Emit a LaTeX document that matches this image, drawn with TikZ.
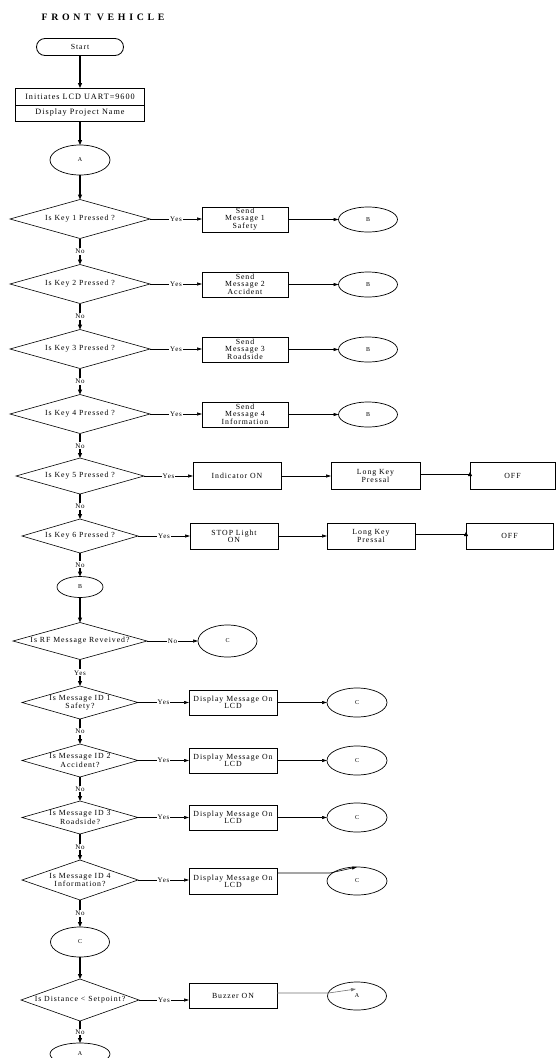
\documentclass[tikz,border=0pt]{standalone}
\usepackage{fontspec}
\setmainfont{Liberation Serif}[LetterSpace=12]
\usetikzlibrary{arrows.meta,shapes.geometric,calc}
\begin{document}
\begin{tikzpicture}[x=1pt,y=-1pt,
  every node/.style={inner sep=0pt,outer sep=0pt},
  sz/.style 2 args={minimum width=#1pt,minimum height=#2pt},
  txt/.style={font=\fontsize{7.8}{6.9}\selectfont,align=center},
  bigtxt/.style={font=\fontsize{8.2}{8}\selectfont,align=center},
  titletxt/.style={font=\fontsize{9.8}{10}\selectfont\bfseries\addfontfeatures{LetterSpace=38}},
  box/.style={draw,line width=0.9pt,rectangle,txt},
  startbox/.style={draw,line width=0.8pt,rectangle,rounded corners=8.5pt,txt},
  circ/.style={draw,line width=0.7pt,ellipse,font=\fontsize{6}{6}\selectfont},
  dia/.style={rectangle,txt},
  diaout/.style={line width=0.6pt},
  varrow/.style={line width=1.1pt,-{Triangle[length=5pt,width=4pt]}},
  harrow/.style={line width=0.6pt,-{Triangle[length=5pt,width=3pt]}},
  hline/.style={line width=0.6pt},
  lbl/.style={fill=white,font=\fontsize{7}{7}\selectfont,inner sep=1pt}]
\fill[white] (0,0) rectangle (556,1058);
\useasboundingbox (0,0) rectangle (556,1058);

\node[titletxt] (title) at (103,17) {FRONT VEHICLE};
\node[startbox,sz={87}{17}] (start) at (80,47) {Start};
\node[box,bigtxt,sz={129}{17}] (init1) at (80,96.5) {Initiates LCD UART=9600};
\node[box,bigtxt,sz={129}{16}] (init2) at (80,113) {Display Project Name};
\node[circ,sz={60}{30}] (a1) at (80,160) {A};

% key rows
\node[dia,sz={140}{39}] (d1) at (80,219) {Is Key 1 Pressed ?};
\node[dia,sz={140}{39}] (d2) at (80,284) {Is Key 2 Pressed ?};
\node[dia,sz={140}{39}] (d3) at (80,349) {Is Key 3 Pressed ?};
\node[dia,sz={140}{39}] (d4) at (80,414) {Is Key 4 Pressed ?};
\node[box,sz={86}{25}] (s1) at (245,219.5) {Send\\Message 1\\Safety};
\node[box,sz={86}{25}] (s2) at (245,284.5) {Send\\Message 2\\Accident};
\node[box,sz={86}{25}] (s3) at (245,349.5) {Send\\Message 3\\Roadside};
\node[box,sz={86}{25}] (s4) at (245,414.5) {Send\\Message 4\\Information};
\node[circ,sz={59}{25}] (b1) at (368,219.5) {B};
\node[circ,sz={59}{25}] (b2) at (368,284.5) {B};
\node[circ,sz={59}{25}] (b3) at (368,349.5) {B};
\node[circ,sz={59}{25}] (b4) at (368,414.5) {B};

\node[dia,sz={128}{36}] (d5) at (80,476) {Is Key 5 Pressed ?};
\node[box,sz={88}{27}] (ind) at (237,476) {Indicator ON};
\node[box,sz={89}{27}] (lk1) at (375.5,476) {Long Key\\Pressal};
\node[box,sz={85}{27}] (off1) at (512.5,476) {OFF};

\node[dia,sz={116}{34}] (d6) at (80,536) {Is Key 6 Pressed ?};
\node[box,sz={88}{26}] (stop) at (234,536) {STOP Light\\ON};
\node[box,sz={88}{26}] (lk2) at (371,536) {Long Key\\Pressal};
\node[box,sz={87}{26}] (off2) at (509.5,536) {OFF};

\node[circ,sz={46}{21}] (b5) at (80,587) {B};
\node[dia,sz={134}{37}] (rf) at (80,641) {Is RF Message Reveived?};
\node[circ,sz={59}{32}] (rfc) at (227.5,641) {C};

\node[dia,sz={116}{33}] (m1) at (80,702.5) {Is Message ID 1\\Safety?};
\node[dia,sz={116}{33}] (m2) at (80,760.5) {Is Message ID 2\\Accident?};
\node[dia,sz={116}{33}] (m3) at (80,817.5) {Is Message ID 3\\Roadside?};
\node[dia,sz={116}{40}] (m4) at (80,880) {Is Message ID 4\\Information?};
\node[box,sz={88}{25}] (db1) at (233,702.5) {Display Message On\\LCD};
\node[box,sz={88}{25}] (db2) at (233,760.5) {Display Message On\\LCD};
\node[box,sz={88}{25}] (db3) at (233,817.5) {Display Message On\\LCD};
\node[box,sz={88}{26}] (db4) at (233,881) {Display Message On\\LCD};
\node[circ,sz={60}{29}] (c1) at (357,702.5) {C};
\node[circ,sz={60}{29}] (c2) at (357,760.5) {C};
\node[circ,sz={60}{29}] (c3) at (357,817.5) {C};
\node[circ,sz={60}{28}] (c4) at (357,881) {C};

\node[circ,sz={59}{30}] (c5) at (80,942) {C};
\node[dia,sz={118}{42}] (dist) at (80,1000) {Is Distance < Setpoint?};
\node[box,sz={88}{25}] (buz) at (233,996) {Buzzer ON};
\node[circ,sz={59}{28}] (a2) at (357,996) {A};
\node[circ,sz={60}{22}] (a3) at (80,1054) {A};

% diamond outlines
\foreach \n in {d1,d2,d3,d4,d5,d6,rf,m1,m2,m3,m4,dist}
  \draw[diaout] (\n.north) -- (\n.east) -- (\n.south) -- (\n.west) -- cycle;

% main flow
\draw[varrow] (start) -- (init1);
\draw[varrow] (init2) -- (a1);
\draw[varrow] (a1) -- (d1.north);
\draw[varrow] (d1.south) -- node[lbl]{No} (d2.north);
\draw[varrow] (d2.south) -- node[lbl]{No} (d3.north);
\draw[varrow] (d3.south) -- node[lbl]{No} (d4.north);
\draw[varrow] (d4.south) -- node[lbl]{No} (d5.north);
\draw[varrow] (d5.south) -- node[lbl]{No} (d6.north);
\draw[varrow] (d6.south) -- node[lbl]{No} (b5);
\draw[varrow] (b5) -- (rf.north);
\draw[varrow] (rf.south) -- node[lbl]{Yes} (m1.north);
\draw[varrow] (m1.south) -- node[lbl]{No} (m2.north);
\draw[varrow] (m2.south) -- node[lbl]{No} (m3.north);
\draw[varrow] (m3.south) -- node[lbl]{No} (m4.north);
\draw[varrow] (m4.south) -- node[lbl]{No} (c5);
\draw[varrow] (c5) -- (dist.north);
\draw[varrow] (dist.south) -- node[lbl]{No} (a3);

% yes branches
\foreach \d/\s/\b in {d1/s1/b1,d2/s2/b2,d3/s3/b3,d4/s4/b4}{
  \draw[harrow] (\d.east) -- node[lbl]{Yes} (\d.east -| \s.west);
  \draw[harrow] (\s.east) -- (\b.west);
}
\draw[harrow] (d5.east) -- node[lbl]{Yes} (ind.west);
\draw[harrow] (ind.east) -- (lk1.west);
\coordinate (p1) at ([yshift=2pt]lk1.east -| off1.west);
\draw[hline] ([yshift=2pt]lk1.east) -- (p1);
\draw[-{Triangle[length=4pt,width=4pt]}] ([yshift=-2pt]p1) -- ([yshift=2pt]p1);

\draw[harrow] (d6.east) -- node[lbl]{Yes} (d6.east -| stop.west);
\draw[harrow] (stop.east) -- (lk2.west);
\coordinate (p2) at ([yshift=2pt]lk2.east -| off2.west);
\draw[hline] ([yshift=2pt]lk2.east) -- (p2);
\draw[-{Triangle[length=4pt,width=4pt]}] ([yshift=-2pt]p2) -- ([yshift=2pt]p2);

\draw[harrow] (rf.east) -- node[lbl]{No} (rfc.west);

\foreach \m/\s/\c in {m1/db1/c1,m2/db2/c2,m3/db3/c3}{
  \draw[harrow] (\m.east) -- node[lbl]{Yes} (\m.east -| \s.west);
  \draw[harrow] (\s.east) -- (\c.west);
}
\draw[harrow] (m4.east) -- node[lbl]{Yes} (m4.east -| db4.west);
\draw[harrow] ([yshift=8pt]db4.east) -- ++(53,0) -- (c4.north);

\draw[harrow] (dist.east) -- node[lbl]{Yes} (dist.east -| buz.west);
\draw[harrow,draw=black!55] ([yshift=3pt]buz.east) -- ([yshift=3pt,xshift=1pt]buz.east -| a2.west) -- ($(a2.center)+(-1,-7)$);
\end{tikzpicture}
\end{document}
